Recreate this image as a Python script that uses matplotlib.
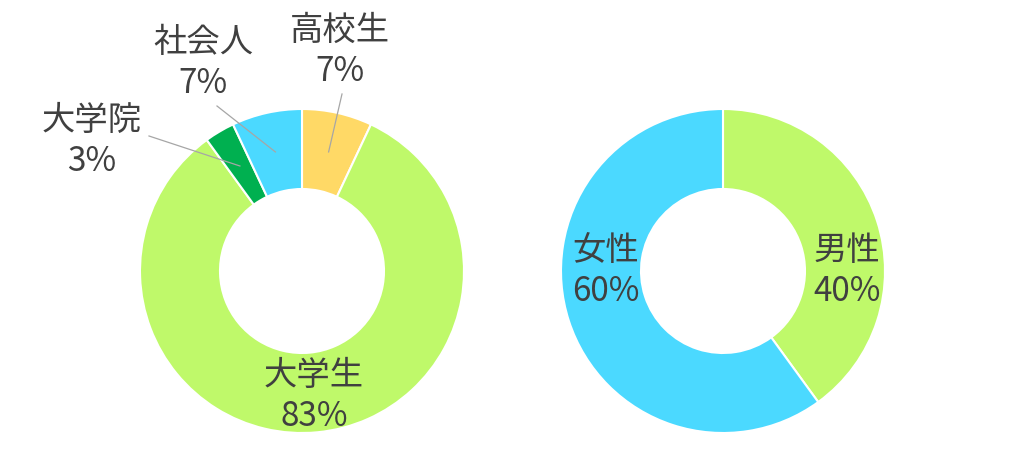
import numpy as np
import matplotlib.pyplot as plt

plt.rcParams['font.family'] = ['Noto Sans CJK JP', 'DejaVu Sans']

# 左: 所属
labels_left = ['高校生', '大学生', '大学院', '社会人']
values_left = [7, 83, 3, 7]
colors_left = ['#FFD966', '#BFF96A', '#00B050', '#4BD9FF']

# 右: 性別
labels_right = ['男性', '女性']
values_right = [40, 60]
colors_right = ['#BFF96A', '#4BD9FF']

text_color = '#404040'
W, H = 1024, 456

fig = plt.figure(figsize=(10.24, 4.56), dpi=100)
ax = fig.add_axes([0, 0, 1, 1])

R_OUT, R_IN = 162, 82
c_left = (302, H - 272)
c_right = (723, H - 272)

wp = dict(width=R_OUT - R_IN, edgecolor='white', linewidth=1.5)
wedges_l, _ = ax.pie(values_left, colors=colors_left, startangle=90, counterclock=False,
                     center=c_left, radius=R_OUT, wedgeprops=wp, frame=True)
wedges_r, _ = ax.pie(values_right, colors=colors_right, startangle=90, counterclock=False,
                     center=c_right, radius=R_OUT, wedgeprops=wp, frame=True)
ax.set_xlim(0, W)
ax.set_ylim(0, H)
ax.set_aspect('equal')
ax.axis('off')

fs = 24
def label(x, y, name, val):
    ax.text(x, H - y, f'{name}\n{val}%', ha='center', va='center', fontsize=fs,
            color=text_color, linespacing=1.2)

# ラベル位置 (ピクセル), 引き出し線の終点
lab_pos_left = {'高校生': (340, 51), '大学生': (314, 396), '大学院': (92, 141), '社会人': (203, 63)}
leader_end = {'高校生': (342, 95), '大学院': (149, 137), '社会人': (217, 107)}

for w, name, v in zip(wedges_l, labels_left, values_left):
    x, y = lab_pos_left[name]
    label(x, y, name, v)
    if name in leader_end:
        ang = np.deg2rad((w.theta1 + w.theta2) / 2)
        rm = (R_OUT + R_IN) / 2
        sx = c_left[0] + rm * np.cos(ang)
        sy = c_left[1] + rm * np.sin(ang)
        ex, ey = leader_end[name]
        ax.plot([sx, ex], [sy, H - ey], color='#A6A6A6', lw=0.9, zorder=5)

lab_pos_right = {'男性': (847, 271), '女性': (606, 271)}
for name, v in zip(labels_right, values_right):
    x, y = lab_pos_right[name]
    label(x, y, name, v)

fig.savefig('out.png', dpi=100)
